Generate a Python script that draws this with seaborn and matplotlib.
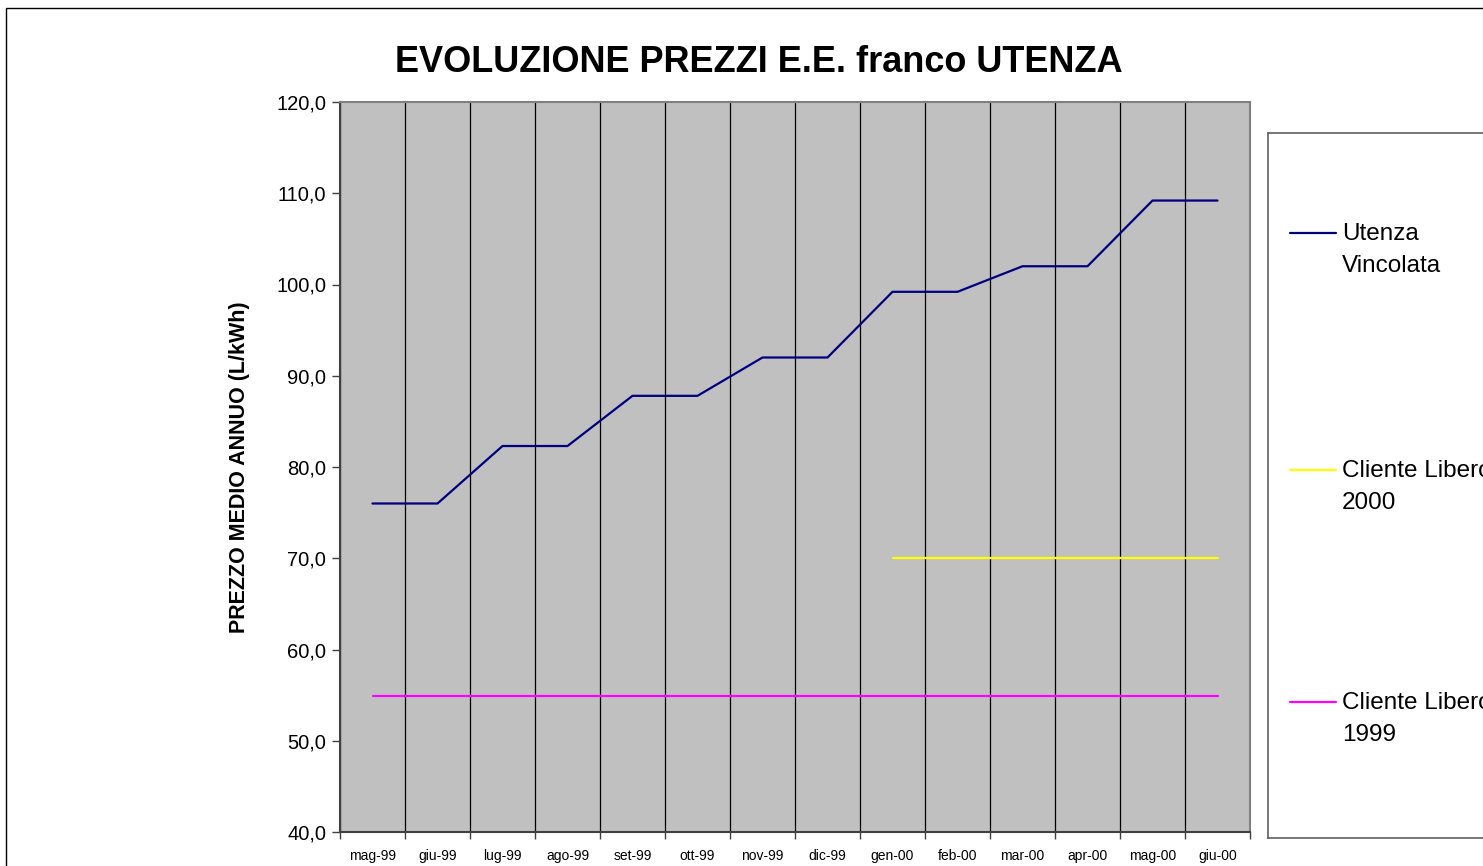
import numpy as np
import pandas as pd
import matplotlib
matplotlib.use("Agg")
import matplotlib.pyplot as plt
from matplotlib.patches import Rectangle
from matplotlib.ticker import FixedLocator
import seaborn as sns

# --- data ---
months = ["mag-99", "giu-99", "lug-99", "ago-99", "set-99", "ott-99", "nov-99",
          "dic-99", "gen-00", "feb-00", "mar-00", "apr-00", "mag-00", "giu-00"]
utenza_vincolata = [76.0, 76.0, 82.3, 82.3, 87.8, 87.8, 92.0, 92.0,
                    99.2, 99.2, 102.0, 102.0, 109.2, 109.2]
cliente_2000 = [np.nan] * 8 + [70.0] * 6
cliente_1999 = [54.9] * 14

series_names = ["Utenza\nVincolata", "Cliente Libero\n2000", "Cliente Libero\n1999"]
series_colors = ["#000080", "#FFFF00", "#FF00FF"]
y_ticks = [40, 50, 60, 70, 80, 90, 100, 110, 120]
y_tick_labels = ["40,0", "50,0", "60,0", "70,0", "80,0", "90,0", "100,0", "110,0", "120,0"]

W, H = 1483, 866

df = pd.DataFrame({
    "pos": list(range(len(months))) * 3,
    "value": utenza_vincolata + cliente_2000 + cliente_1999,
    "serie": np.repeat(series_names, len(months)),
})

sns.set_style("white")
plt.rcParams["font.family"] = ["Liberation Sans", "DejaVu Sans"]
plt.rcParams.update({"text.color": "black", "axes.labelcolor": "black",
                     "xtick.color": "black", "ytick.color": "black"})

fig = plt.figure(figsize=(W / 100, H / 100), dpi=100)
ax = fig.add_axes([340 / W, 1 - 832 / H, 910 / W, 730 / H])
ax.set_facecolor("#C0C0C0")

sns.lineplot(data=df, x="pos", y="value", hue="serie", palette=series_colors,
             hue_order=series_names, linewidth=1.6, legend=False, ax=ax)

ax.set_xlim(-0.5, len(months) - 0.5)
ax.set_ylim(40, 120)

# category labels at centres, boundaries as minor ticks + vertical grid
ax.set_xticks(range(len(months)))
ax.set_xticklabels(months, fontsize=10)
ax.xaxis.set_minor_locator(FixedLocator(np.arange(-0.5, len(months), 1.0)))
ax.tick_params(axis="x", which="major", length=0, pad=12)
ax.tick_params(axis="x", which="minor", length=5, width=1, color="#404040", direction="out", bottom=True)
ax.grid(False)
ax.grid(True, axis="x", which="minor", color="black", linewidth=0.9)

ax.set_yticks(y_ticks)
ax.set_yticklabels(y_tick_labels, fontsize=14.5)
ax.tick_params(axis="y", length=6, width=1, color="#404040", direction="out", pad=4, left=True)

ax.set_xlabel("")
ax.set_ylabel("PREZZO MEDIO ANNUO (L/kWh)", fontsize=15.5, fontweight="bold")
ax.yaxis.set_label_coords(-0.099, 0.5)

for side in ["left", "bottom"]:
    ax.spines[side].set_color("#404040")
    ax.spines[side].set_linewidth(1.5)
for side in ["top", "right"]:
    ax.spines[side].set_color("#808080")
    ax.spines[side].set_linewidth(1.5)

fig.text(759 / W, 1 - 62 / H, "EVOLUZIONE PREZZI E.E. franco UTENZA",
         fontsize=26, fontweight="bold", ha="center", va="center")

# outer chart-area border (runs off the right and bottom edge)
fig.patches.append(Rectangle((6 / W, -0.1), 1.2, (H - 8) / H + 0.1,
                             transform=fig.transFigure, fill=False,
                             edgecolor="black", linewidth=1))

# legend box, cut by the right edge like the original
lx0, ly0, ly1 = 1268, 133, 838
lw = W + 40 - lx0
lax = fig.add_axes([lx0 / W, 1 - ly1 / H, lw / W, (ly1 - ly0) / H])
lax.set_xlim(0, lw)
lax.set_ylim(ly1 - ly0, 0)
lax.set_xticks([])
lax.set_yticks([])
for s in lax.spines.values():
    s.set_color("#606060")
    s.set_linewidth(1.2)
legend_rows = [233, 470, 702]
for name, color, yrow in zip(series_names, series_colors, legend_rows):
    yy = yrow - ly0
    lax.plot([22, 68], [yy, yy], color=color, linewidth=1.6)
    lax.text(74, yy + 17, name, fontsize=17.5, ha="left", va="center", linespacing=1.62)

fig.savefig("out.png", dpi=100)
